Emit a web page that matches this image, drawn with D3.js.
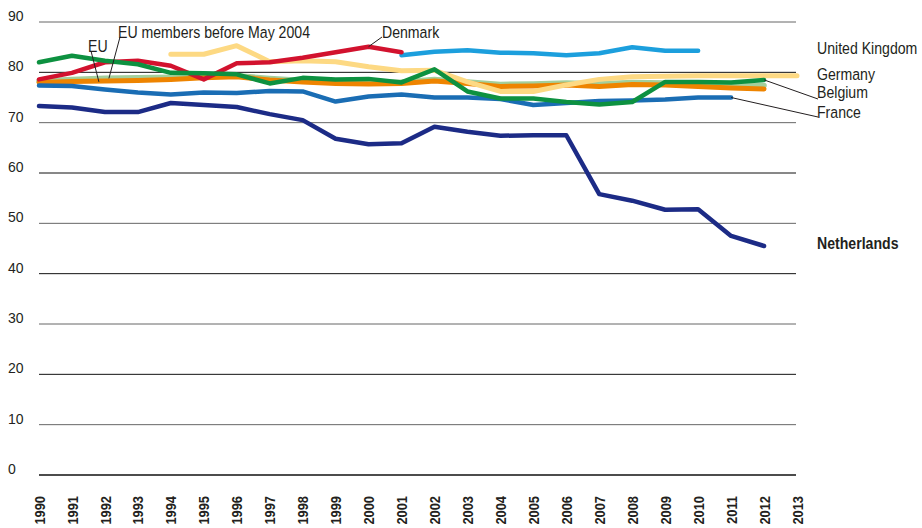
<!DOCTYPE html>
<html>
    <head>
        <meta charset="utf-8">
        <title>Employment rate lines</title>
        <style>
body {
    margin: 0;
    background-color: white;
}

svg {
    display: block;
}

.series {
    fill: none;
    stroke-width: 4.5;
    stroke-linejoin: round;
    stroke-linecap: round;
}

.ytick {
    font-family: "Liberation Sans", Arial, sans-serif;
    font-size: 14px;
    fill: #231f20;
}

.xtick {
    font-family: "Liberation Sans", Arial, sans-serif;
    font-size: 15.5px;
    font-weight: bold;
    fill: #231f20;
}

.label {
    font-family: "Liberation Sans", Arial, sans-serif;
    font-size: 17px;
    fill: #231f20;
}

.leader {
    stroke: #231f20;
    stroke-width: 1;
    fill: none;
}
</style>
        <script src="https://cdn.jsdelivr.net/npm/d3@7"></script>
    </head>
    <body>
        <script>
var width = 922,
    height = 528;

// narrow look: squeeze text horizontally
var squeeze = 0.83;

var years = d3.range(1990, 2014);
var yTicks = [0, 10, 20, 30, 40, 50, 60, 70, 80, 90];

var eu15 = [78.3, 78.6, 78.8, 78.9, 79.0, 79.2, 79.3, 78.8, 78.4, 78.1, 78.0, 78.1,
            78.6, 78.1, 77.6, 77.7, 77.9, 77.7, 78.0, 77.9, 77.7, 77.5, 77.4, null];
var eu = [78.0, 78.2, 78.3, 78.4, 78.6, 78.9, 79.1, 78.5, 78.1, 77.8, 77.7, 77.8,
          78.3, 77.8, 77.2, 77.3, 77.5, 77.2, 77.6, 77.5, 77.2, 76.9, 76.7, null];
var germany = [null, null, null, null, 83.6, 83.6, 85.3, 82.1, 82.3, 82.1, 81.1, 80.3,
               80.4, 78.1, 76.2, 76.2, 77.5, 78.6, 79.1, 79.2, 79.3, 79.3, 79.3, 79.3];
var france = [77.4, 77.3, 76.6, 76.0, 75.6, 76.0, 75.9, 76.3, 76.2, 74.2, 75.2, 75.6,
              75.0, 75.0, 74.7, 73.5, 73.9, 74.3, 74.4, 74.6, 75.0, 75.0, null, null];
var uk = [null, null, null, null, null, null, null, null, null, null, null, 83.4,
          84.1, 84.4, 83.9, 83.8, 83.4, 83.8, 85.0, 84.3, 84.3, null, null, null];
var denmark = [78.6, 79.9, 82.0, 82.3, 81.3, 78.6, 81.8, 82.0, 82.9, 84.0, 85.1, 84.0,
               null, null, null, null, null, null, null, null, null, null, null, null];
var belgium = [82.0, 83.3, 82.3, 81.6, 79.9, 79.8, 79.6, 77.8, 78.9, 78.6, 78.7, 78.0,
               80.6, 76.2, 74.8, 74.8, 74.1, 73.6, 74.1, 78.1, 78.1, 78.0, 78.5, null];
var netherlands = [73.3, 73.0, 72.1, 72.1, 73.9, 73.5, 73.1, 71.7, 70.5, 66.8, 65.7, 65.9,
                   69.2, 68.2, 67.4, 67.5, 67.5, 55.8, 54.5, 52.7, 52.8, 47.5, 45.5, null];

var series = [
    {name: "EU members before May 2004", values: eu15, color: "#a3cf9c", w: 5.5},
    {name: "EU", values: eu, color: "#ee8400", w: 5},
    {name: "Germany", values: germany, color: "#fdd983", w: 5},
    {name: "France", values: france, color: "#1a6db4", w: 4.5},
    {name: "United Kingdom", values: uk, color: "#1c9fdd", w: 4.5},
    {name: "Denmark", values: denmark, color: "#d2122e", w: 4.5},
    {name: "Belgium", values: belgium, color: "#0d9140", w: 4.5},
    {name: "Netherlands", values: netherlands, color: "#1c2b86", w: 4.5}
];

var x = d3.scaleLinear().domain([1990, 2013]).range([39, 797]);
var y = d3.scaleLinear().domain([0, 90]).range([475, 22]);

var svg = d3.select('body')
    .append('svg')
    .attr('width', width)
    .attr('height', height);

// grid + y labels
svg.append('g').selectAll('line')
    .data(yTicks)
    .enter().append('line')
    .attr('x1', x(1990))
    .attr('x2', x(2013) - 1)
    .attr('y1', function (d) { return y(d); })
    .attr('y2', function (d) { return y(d); })
    .style('stroke-width', function (d) { return d === 0 ? 1.5 : 1; })
    .style('stroke', function (d) { return d % 20 === 0 ? '#111' : '#666'; });

svg.selectAll('.ytick')
    .data(yTicks)
    .enter().append('text')
    .attr('class', 'ytick')
    .attr('x', 8)
    .attr('y', function (d) { return y(d) - 1; })
    .text(function (d) { return d; });

// x labels, read bottom to top
svg.selectAll('.xtick')
    .data(years)
    .enter().append('text')
    .attr('class', 'xtick')
    .attr('text-anchor', 'end')
    .attr('dy', '0.36em')
    .attr('transform', function (d) {
        return 'translate(' + x(d) + ',496) rotate(-90) scale(' + squeeze + ',1)';
    })
    .text(function (d) { return d; });

// lines
var line = d3.line()
    .defined(function (d) { return d != null; })
    .x(function (d, i) { return x(years[i]); })
    .y(function (d) { return y(d); });

svg.selectAll('.series')
    .data(series)
    .enter().append('path')
    .attr('class', 'series')
    .attr('d', function (d) { return line(d.values); })
    .style('stroke', function (d) { return d.color; })
    .style('stroke-width', function (d) { return d.w; });

// leader lines
var leaders = [
    [[91, 51], [x(1992) - 6, y(eu[2]) + 1]],
    [[120, 37], [x(1992) + 4, y(eu15[2])]],
    [[382, 37], [x(2000), y(denmark[10])]],
    [[x(2012), y(belgium[22])], [818, 99]],
    [[x(2011), y(france[21])], [818, 117]]
];
svg.selectAll('.leader')
    .data(leaders)
    .enter().append('path')
    .attr('class', 'leader')
    .attr('d', d3.line());

// labels
var labels = [
    {text: "EU", x: 88, y: 52},
    {text: "EU members before May 2004", x: 118, y: 38},
    {text: "Denmark", x: 382, y: 38},
    {text: "United Kingdom", x: 817, y: 54},
    {text: "Germany", x: 817, y: 80},
    {text: "Belgium", x: 817, y: 98},
    {text: "France", x: 817, y: 118},
    {text: "Netherlands", x: 817, y: 249, bold: true}
];
svg.selectAll('.label')
    .data(labels)
    .enter().append('text')
    .attr('class', 'label')
    .attr('transform', function (d) {
        return 'translate(' + d.x + ',' + d.y + ') scale(' + squeeze + ',1)';
    })
    .style('font-weight', function (d) { return d.bold ? 'bold' : 'normal'; })
    .text(function (d) { return d.text; });
        </script>
    </body>
</html>
